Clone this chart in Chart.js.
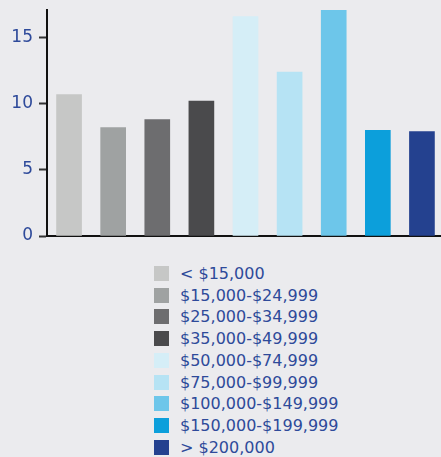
<!DOCTYPE html>
<html>
<head>
<meta charset="utf-8">
<script src="https://cdn.jsdelivr.net/npm/chart.js@4.4.1/dist/chart.umd.min.js"></script>
<style>
    html, body { margin: 0; padding: 0; background: #ebebee; overflow: hidden; }
    #wrap { position: relative; width: 441px; height: 457px; overflow: hidden; }
    #chartBox { position: absolute; left: 0; top: 0; width: 444px; height: 240px; }
    #legend { position: absolute; left: 154px; top: 262.6px; font-family: "DejaVu Sans", Verdana, sans-serif; font-size: 16px; color: #2e4a9a; }
    .item { display: flex; align-items: center; height: 21.75px; }
    .box { width: 15px; height: 15px; margin-right: 11px; }
</style>
</head>
<body>
<div id="wrap">
    <div id="chartBox"><canvas id="incomeChart"></canvas></div>
    <div id="legend"></div>
</div>
<script>
// Income brackets and their values
var brackets = ['< $15,000', '$15,000-$24,999', '$25,000-$34,999', '$35,000-$49,999',
    '$50,000-$74,999', '$75,000-$99,999', '$100,000-$149,999', '$150,000-$199,999', '> $200,000'];
var values = [10.7, 8.2, 8.8, 10.2, 16.6, 12.4, 17.1, 8.0, 7.9];
var colors = ['#c6c7c6', '#9fa2a2', '#6d6d6f', '#4a4a4c', '#d5eef7', '#b6e3f4', '#6dc6ea', '#0c9fdb', '#24418f'];
var yTicks = [0, 5, 10, 15];

var textBlue = '#2e4a9a';
Chart.defaults.font.family = '"DejaVu Sans", Verdana, sans-serif';

var incomeChart = new Chart(document.getElementById('incomeChart').getContext('2d'), {
    type: 'bar',
    data: {
        labels: brackets,
        datasets: [{
            data: values,
            backgroundColor: colors,
            borderWidth: 0,
            barThickness: 25
        }]
    },
    options: {
        responsive: true,
        maintainAspectRatio: false,
        animation: false,
        layout: { padding: { top: 10, bottom: 4, right: 0 } },
        plugins: {
            legend: { display: false },
            tooltip: { enabled: false }
        },
        scales: {
            x: {
                grid: { display: false },
                ticks: { display: false },
                border: { display: true, color: '#111', width: 2 },
                afterFit: function (scale) { scale.height = 0; }
            },
            y: {
                min: 0,
                max: 17.1,
                afterBuildTicks: function (scale) {
                    scale.ticks = yTicks.map(function (v) { return { value: v }; });
                },
                grid: { drawOnChartArea: false, drawTicks: true, tickLength: 8, tickColor: '#333', tickWidth: 2 },
                border: { display: true, color: '#111', width: 2 },
                ticks: { color: textBlue, font: { size: 17 }, padding: 6 },
                afterFit: function (scale) {
                    // fixed axis width, no extra room for the end labels
                    scale.width = 47;
                    scale.paddingTop = 0;
                    scale.paddingBottom = 0;
                }
            }
        }
    }
});

// Legend, one bracket per line
var legend = document.getElementById('legend');
brackets.forEach(function (label, i) {
    var row = document.createElement('div');
    row.className = 'item';
    var box = document.createElement('span');
    box.className = 'box';
    box.style.background = colors[i];
    var text = document.createElement('span');
    text.textContent = label;
    row.appendChild(box);
    row.appendChild(text);
    legend.appendChild(row);
});
</script>
</body>
</html>
